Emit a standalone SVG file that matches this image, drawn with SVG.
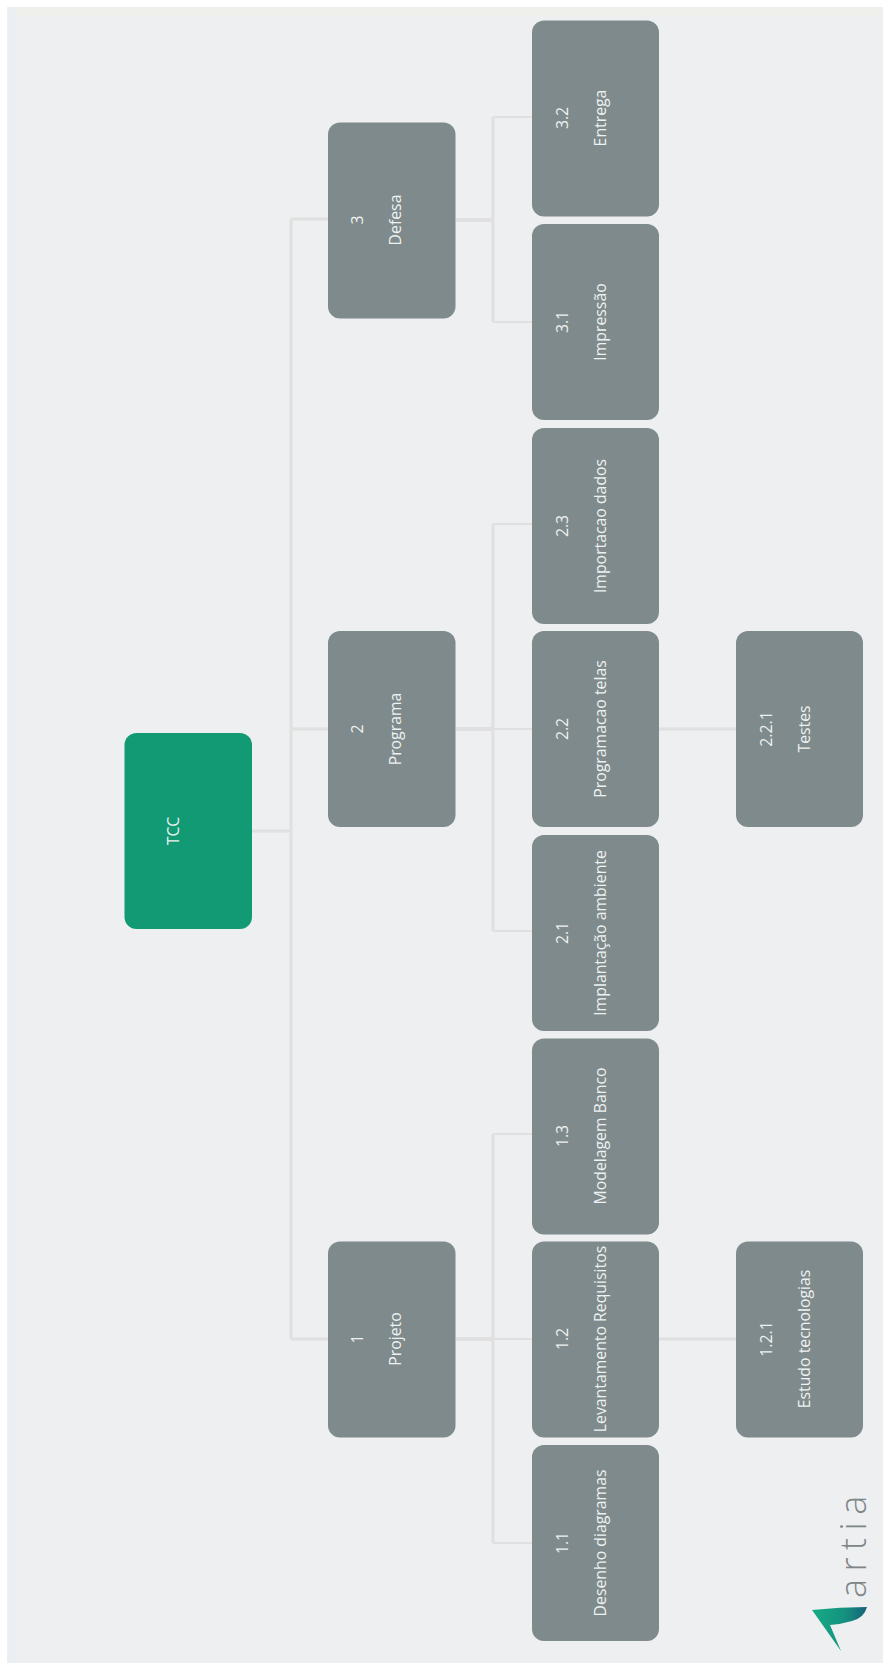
<svg xmlns="http://www.w3.org/2000/svg" width="883" height="1665" viewBox="0 0 883 1665">
<style>
.n{fill:#7e8a8b}
.r{fill:#129a74}
text{fill:#eef1f1;font-family:"Open Sans","Noto Sans",sans-serif;font-size:15.8px;text-anchor:middle;dominant-baseline:central}
.c path{fill:none;stroke:#e0e0e0;stroke-width:2}
.c .s{stroke-width:3}
.c .t{stroke-width:4}
</style>
<defs>
<linearGradient id="lg" x1="0" y1="0" x2="1" y2="0">
<stop offset="0" stop-color="#16ab85"/><stop offset="0.6" stop-color="#14917f"/><stop offset="1" stop-color="#17607a"/>
</linearGradient>
</defs>
<rect width="883" height="1665" fill="#ffffff"/>
<rect x="7" y="7" width="876" height="1656" fill="#eeeff1"/>
<rect x="7" y="7" width="876" height="9" fill="#efefec"/>
<rect x="8" y="7" width="8" height="1656" fill="#ebeef2"/>
<g class="c" id="connectors">
<path class="s" d="M252 831H291M291 219V1339M291 219H328M291 729H328M291 1339H328"/>
<path class="s" d="M493 117V322M493 524V931M493 1134V1543"/>
<path class="t" d="M456 220H493M456 729H493M456 1339H493"/>
<path d="M493 117H532M493 322H532M493 524H532M493 729H532M493 931H532M493 1134H532M493 1339H532M493 1543H532"/>
<path class="s" d="M659 729H736M659 1339H736"/>
</g>
<g id="n-root"><rect class="r" x="124.500" y="733" width="127.500" height="196" rx="12"/><text transform="translate(173 831) rotate(-90)">TCC</text></g>
<g id="n-3"><rect class="n" x="328" y="122.500" width="127.500" height="196" rx="12"/><text transform="translate(357 220) rotate(-90)">3</text><text transform="translate(395 220) rotate(-90)">Defesa</text></g>
<g id="n-2"><rect class="n" x="328" y="631" width="127.500" height="196" rx="12"/><text transform="translate(357 729) rotate(-90)">2</text><text transform="translate(395 729) rotate(-90)">Programa</text></g>
<g id="n-1"><rect class="n" x="328" y="1241.500" width="127.500" height="196" rx="12"/><text transform="translate(357 1339) rotate(-90)">1</text><text transform="translate(395 1339) rotate(-90)">Projeto</text></g>
<g id="n-32"><rect class="n" x="532" y="20.500" width="127" height="196" rx="12"/><text transform="translate(562 118) rotate(-90)">3.2</text><text transform="translate(600 118) rotate(-90)">Entrega</text></g>
<g id="n-31"><rect class="n" x="532" y="224" width="127" height="196" rx="12"/><text transform="translate(562 322) rotate(-90)">3.1</text><text transform="translate(600 322) rotate(-90)">Impressão</text></g>
<g id="n-23"><rect class="n" x="532" y="428" width="127" height="196" rx="12"/><text transform="translate(562 526) rotate(-90)">2.3</text><text transform="translate(600 526) rotate(-90)">Importacao dados</text></g>
<g id="n-22"><rect class="n" x="532" y="631" width="127" height="196" rx="12"/><text transform="translate(562 729) rotate(-90)">2.2</text><text transform="translate(600 729) rotate(-90)">Programacao telas</text></g>
<g id="n-21"><rect class="n" x="532" y="835" width="127" height="196" rx="12"/><text transform="translate(562 933) rotate(-90)">2.1</text><text transform="translate(600 933) rotate(-90)">Implantação ambiente</text></g>
<g id="n-13"><rect class="n" x="532" y="1038.500" width="127" height="196" rx="12"/><text transform="translate(562 1136) rotate(-90)">1.3</text><text transform="translate(600 1136) rotate(-90)">Modelagem Banco</text></g>
<g id="n-12"><rect class="n" x="532" y="1241.500" width="127" height="196" rx="12"/><text transform="translate(562 1339) rotate(-90)">1.2</text><text transform="translate(600 1339) rotate(-90)">Levantamento Requisitos</text></g>
<g id="n-11"><rect class="n" x="532" y="1445" width="127" height="196" rx="12"/><text transform="translate(562 1543) rotate(-90)">1.1</text><text transform="translate(600 1543) rotate(-90)">Desenho diagramas</text></g>
<g id="n-221"><rect class="n" x="736" y="631" width="127" height="196" rx="12"/><text transform="translate(766 729) rotate(-90)">2.2.1</text><text transform="translate(804 729) rotate(-90)">Testes</text></g>
<g id="n-121"><rect class="n" x="736" y="1241.500" width="127" height="196" rx="12"/><text transform="translate(766 1339) rotate(-90)">1.2.1</text><text transform="translate(804 1339) rotate(-90)">Estudo tecnologias</text></g>
<g id="logo">
<path d="M812 1610Q840 1607 867 1607Q864 1618 852 1621Q842 1624 830 1625L841 1651Z" fill="url(#lg)"/>
<text transform="translate(866 1598) rotate(-90)" style="fill:#7f8688;font-family:'Open Sans',sans-serif;font-weight:300;font-size:36px;letter-spacing:7.5px;text-anchor:start;dominant-baseline:auto">artia</text>
</g>
</svg>
